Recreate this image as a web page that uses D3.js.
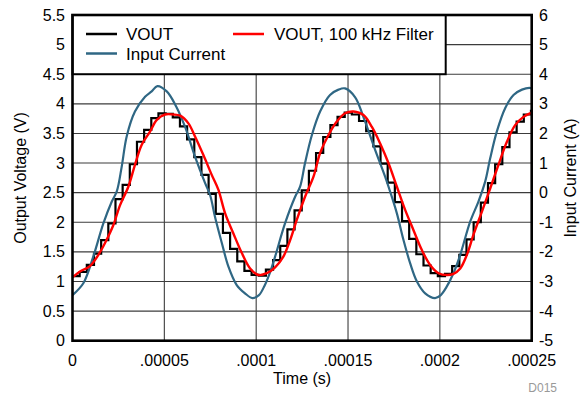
<!DOCTYPE html>
<html><head><meta charset="utf-8">
<script src="https://cdn.jsdelivr.net/npm/d3@7"></script>
<style>body{margin:0;background:#fff}svg{display:block;font-family:"Liberation Sans",Arial,sans-serif}</style>
</head><body><svg id="c" width="580" height="396"></svg>
<script>
// ---- data (time in microseconds) ----
const xTickValues = [0, 50, 100, 150, 200, 250];
const xTickLabels = ["0", ".00005", ".0001", ".00015", ".0002", ".00025"];
const yLeftTicks = [0,0.5,1,1.5,2,2.5,3,3.5,4,4.5,5,5.5];
const yRightTicks = [-5,-4,-3,-2,-1,0,1,2,3,4,5,6];

// VOUT (stepped, black): step start times and levels
const voutT = [0,3.9,7.8,11.7,15.6,19.5,23.4,27.3,31.2,35.1,39.0,42.9,46.8,50.7,54.6,58.5,62.4,66.3,70.2,74.1,78.0,81.9,85.8,89.7,93.6,97.5,101.4,105.3,109.2,113.1,117.0,120.9,124.8,128.7,132.6,136.5,140.4,144.3,148.2,152.1,156.0,159.9,163.8,167.7,171.6,175.5,179.4,183.3,187.2,191.1,195.0,198.9,202.8,206.7,210.6,214.5,218.4,222.3,226.2,230.1,234.0,237.9,241.8,245.7,249.6,250];
const voutV = [1.09,1.16,1.28,1.47,1.70,1.98,2.39,2.63,2.98,3.36,3.56,3.76,3.84,3.83,3.77,3.62,3.40,3.10,2.80,2.48,2.14,1.82,1.55,1.34,1.18,1.11,1.10,1.20,1.36,1.60,1.88,2.20,2.54,2.87,3.17,3.44,3.64,3.78,3.85,3.82,3.71,3.54,3.28,2.99,2.67,2.34,2.02,1.72,1.46,1.27,1.14,1.09,1.13,1.26,1.45,1.71,2.00,2.33,2.66,2.98,3.27,3.52,3.70,3.82,3.88,3.88];

// VOUT, 100 kHz filter (red)
const filtT = [0,4.1,9.5,14.1,17.7,22.2,25.9,30.4,34.0,37.7,42.2,45.9,50.4,54.9,58.6,63.1,66.7,71.2,75.8,79.4,83.1,87.6,92.2,96.7,101.2,105.8,110.3,114.8,118.5,122.1,126.6,131.2,134.8,139.3,143.9,148.4,153.0,158.4,163.0,167.5,172.0,176.6,181.1,185.6,190.2,194.7,199.3,203.8,207.4,211.1,214.7,218.3,222.9,227.4,231.9,236.5,241.0,245.5,250];
const filtV = [1.07,1.17,1.26,1.45,1.65,1.95,2.29,2.60,2.97,3.31,3.53,3.73,3.82,3.82,3.80,3.67,3.45,3.14,2.80,2.55,2.15,1.81,1.48,1.22,1.11,1.14,1.24,1.42,1.70,2.04,2.43,2.77,3.17,3.47,3.70,3.84,3.87,3.81,3.61,3.33,3.00,2.60,2.21,1.87,1.53,1.28,1.14,1.11,1.13,1.22,1.45,1.79,2.18,2.57,2.97,3.36,3.64,3.78,3.85];

// Input current (A, right axis)
const curT = [0,5.9,11.3,16.8,21.4,24.1,26.8,29.5,34.0,39.5,43.1,46.2,51.3,56.3,61.3,66.7,72.2,74.9,77.6,81.3,84.9,89.4,93.9,97.9,101.5,104.5,107.5,110.3,115.7,121.2,123.9,126.6,130.3,134.8,140.2,144.8,148.4,153.9,158.4,164.8,170.2,172.9,176.6,180.2,183.8,187.5,192.0,197.4,200.5,203.5,207.4,211.1,216.5,221.0,224.7,227.4,231.0,235.6,240.1,244.7,248.8,250];
const curA = [-3.46,-3.06,-2.16,-1.04,-0.30,0.04,0.88,1.90,2.74,3.24,3.42,3.60,3.42,2.93,2.22,1.22,0.32,-0.08,-0.82,-1.70,-2.50,-3.12,-3.40,-3.56,-3.46,-3.15,-2.70,-2.16,-1.04,-0.14,0.20,1.00,1.94,2.74,3.30,3.48,3.52,3.22,2.55,1.44,0.54,0.04,-0.70,-1.60,-2.38,-3.00,-3.40,-3.56,-3.46,-3.20,-2.72,-2.10,-0.98,-0.30,0.38,1.16,2.06,2.86,3.30,3.48,3.54,3.52];

const legendItems = [
  {label:"VOUT", color:"#000000"},
  {label:"Input Current", color:"#2f6784"},
  {label:"VOUT, 100 kHz Filter", color:"#ff0000"}
];

// ---- layout ----
const svg = d3.select("#c");
const L = 72.5, R = 531.7, T = 15, B = 340.7;
const x = d3.scaleLinear().domain([0,250]).range([L,R]);
const yL = d3.scaleLinear().domain([0,5.5]).range([B,T]);
const yR = d3.scaleLinear().domain([-5,6]).range([B,T]);

// grid
const g = svg.append("g");
g.selectAll("line.h").data(yLeftTicks.filter(v=>v>0&&v<5.5)).join("line")
  .attr("x1",L).attr("x2",R).attr("y1",d=>yL(d)).attr("y2",d=>yL(d))
  .attr("stroke","#3c3c3c").attr("stroke-width",1.1);
g.selectAll("line.v").data(xTickValues.filter(v=>v>0&&v<250)).join("line")
  .attr("y1",T).attr("y2",B).attr("x1",d=>x(d)).attr("x2",d=>x(d))
  .attr("stroke","#3c3c3c").attr("stroke-width",1.1);

svg.append("clipPath").attr("id","clip").append("rect").attr("x",L).attr("y",T).attr("width",R-L).attr("height",B-T);
const plot = svg.append("g").attr("clip-path","url(#clip)");

const lineV = d3.line().x(d=>x(d[0])).y(d=>yL(d[1]));
plot.append("path").datum(voutT.map((t,i)=>[t,voutV[i]]))
  .attr("d", lineV.curve(d3.curveStepAfter)).attr("fill","none").attr("stroke","#000").attr("stroke-width",2.2);
plot.append("path").datum(curT.map((t,i)=>[t,curA[i]]))
  .attr("d", d3.line().x(d=>x(d[0])).y(d=>yR(d[1])).curve(d3.curveCatmullRom))
  .attr("fill","none").attr("stroke",legendItems[1].color).attr("stroke-width",2.2);
plot.append("path").datum(filtT.map((t,i)=>[t,filtV[i]]))
  .attr("d", d3.line().x(d=>x(d[0])).y(d=>yL(d[1])).curve(d3.curveCatmullRom))
  .attr("fill","none").attr("stroke","#ff0000").attr("stroke-width",2.4);

// legend box
svg.append("rect").attr("x",L).attr("y",T).attr("width",445.7-L).attr("height",yL(4.5)-T)
  .attr("fill","#fff").attr("stroke","#000").attr("stroke-width",2);
const lg = svg.append("g").attr("font-size","17px").attr("fill","#000");
const legPos = [[86,34,126,40],[86,53.5,126,60],[233,34,274,40]];
legendItems.forEach((it,i)=>{
  const p = legPos[i];
  lg.append("line").attr("x1",p[0]).attr("x2",p[0]+31).attr("y1",p[1]).attr("y2",p[1])
    .attr("stroke",it.color).attr("stroke-width",2.5);
  lg.append("text").attr("x",p[2]).attr("y",p[3]).text(it.label);
});

// frame
svg.append("rect").attr("x",L).attr("y",T).attr("width",R-L).attr("height",B-T)
  .attr("fill","none").attr("stroke","#000").attr("stroke-width",2.6);

// axes labels
const ax = svg.append("g").attr("font-size","16px").attr("fill","#000");
ax.selectAll("text.yl").data(yLeftTicks).join("text")
  .attr("x",65).attr("y",d=>yL(d)).attr("dy","0.35em").attr("text-anchor","end").text(d=>String(d));
ax.selectAll("text.yr").data(yRightTicks).join("text")
  .attr("x",539).attr("y",d=>yR(d)).attr("dy","0.35em").attr("text-anchor","start").text(d=>String(d));
ax.selectAll("text.xt").data(xTickValues).join("text")
  .attr("x",d=>x(d)).attr("y",365.5).attr("text-anchor","middle").text((d,i)=>xTickLabels[i]);
ax.append("text").attr("x",(L+R)/2).attr("y",384).attr("text-anchor","middle").text("Time (s)");
ax.append("text").attr("transform","translate(26,178) rotate(-90)").attr("text-anchor","middle").text("Output Voltage (V)");
ax.append("text").attr("transform","translate(576,178) rotate(-90)").attr("text-anchor","middle").text("Input Current (A)");
svg.append("text").attr("x",557).attr("y",392).attr("text-anchor","end").attr("font-size","12px").attr("fill","#999").text("D015");
</script></body></html>
